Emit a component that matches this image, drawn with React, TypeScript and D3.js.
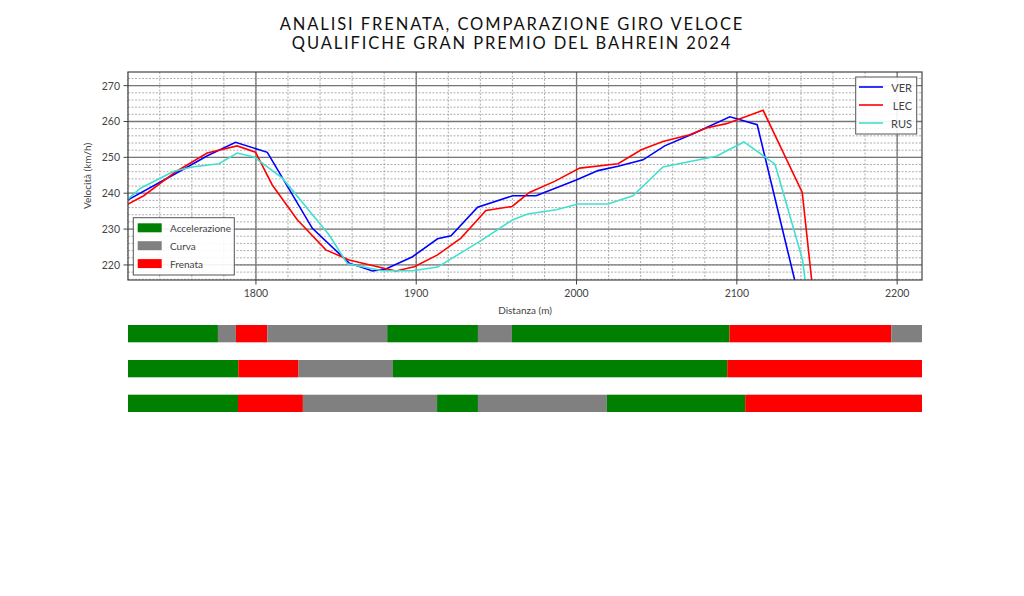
import * as d3 from "d3";

// speed traces (distance m, speed km/h)
const verDist = [1719.6, 1750, 1770, 1787.3, 1807.1, 1835.2, 1858.2, 1872.7, 1881, 1897.7, 1913.3, 1921.7, 1938.3, 1960.2, 1974.8, 1999.8, 2013.4, 2025.9, 2041.5, 2055, 2072.7, 2095.6, 2112.7, 2150];
const verSpeed = [238.0, 245.5, 250.5, 254.2, 251.4, 230.2, 220.5, 218.3, 218.9, 222.3, 227.3, 228.1, 236.1, 239.3, 239.3, 243.7, 246.3, 247.5, 249.3, 253.2, 256.6, 261.3, 259.1, 190];

const lecDist = [1719.6, 1730, 1750, 1769.6, 1788.3, 1799.8, 1810.2, 1825.8, 1843.6, 1858.1, 1875.8, 1887.3, 1898.8, 1913.3, 1927.9, 1943.5, 1959.8, 1970.6, 1986.3, 2002, 2025.9, 2040.4, 2053.9, 2070.6, 2081, 2093.5, 2116.4, 2140.8, 2150];
const lecSpeed = [236.8, 239.3, 246, 251.2, 253.2, 251.4, 242.3, 232.6, 224.2, 221.4, 219.5, 218.3, 219.5, 222.8, 227.5, 235.2, 236.3, 240.2, 243.3, 247.0, 248.2, 252.1, 254.4, 256.3, 258.2, 259.4, 263.1, 240.2, 202];

const rusDist = [1719.6, 1728, 1748.8, 1760.2, 1776.9, 1788.3, 1798.8, 1816.5, 1845.6, 1857.1, 1879, 1897.7, 1913.3, 1939.4, 1960.2, 1969.6, 1987.3, 2000.9, 2019.6, 2035.2, 2053.9, 2087.2, 2104.4, 2123.8, 2141, 2147];
const rusSpeed = [238.1, 241.4, 246.1, 247.3, 248.2, 251.2, 250.1, 244.2, 228.4, 220.3, 218.4, 218.4, 219.4, 226.5, 232.6, 234.2, 235.4, 237.0, 237.0, 239.3, 247.3, 250.3, 254.3, 248.1, 221.4, 200];

const drivers = ["VER", "LEC", "RUS"];

// phases: A = accelerazione, C = curva, F = frenata
const verPhases = ["A", "C", "F", "C", "A", "C", "A", "F", "C"];
const verBreaks = [1776.3, 1787.5, 1807.1, 1881.9, 1938.5, 1959.7, 2095.4, 2196.3];
const lecPhases = ["A", "F", "C", "A", "F"];
const lecBreaks = [1789, 1826.6, 1885.5, 2094];
const rusPhases = ["A", "F", "C", "A", "C", "A", "F"];
const rusBreaks = [1788.8, 1829.3, 1913, 1938.5, 2018.9, 2105.2];

const phaseKeys = ["A", "C", "F"];
const phaseLabels = ["Accelerazione", "Curva", "Frenata"];

const xTicks = [1800, 1900, 2000, 2100, 2200];
const yTicks = [220, 230, 240, 250, 260, 270];

const titleLines = [
  "ANALISI FRENATA, COMPARAZIONE GIRO VELOCE",
  "QUALIFICHE GRAN PREMIO DEL BAHREIN 2024"
];

const lineColors = ["#0000ff", "#ff0000", "#40e0d0"];
const phaseColors = ["#008000", "#808080", "#ff0000"];

const left = 128;
const right = 922;
const top = 72;
const bottom = 280;
const font = "'Lato', 'DejaVu Sans', sans-serif";

export default function App() {
  const x = d3.scaleLinear().domain([1720.2, 2215.5]).range([left, right]);
  const y = d3.scaleLinear().domain([215.8, 273.8]).range([bottom, top]);

  const minorX = d3.range(1720, 2216, 20);
  const minorY = d3.range(216, 274, 2);

  const series = [
    { dist: verDist, speed: verSpeed },
    { dist: lecDist, speed: lecSpeed },
    { dist: rusDist, speed: rusSpeed }
  ];
  const line = d3
    .line<[number, number]>()
    .x((d) => x(d[0]))
    .y((d) => y(d[1]));

  const rows = [
    { phases: verPhases, breaks: verBreaks, y0: 325 },
    { phases: lecPhases, breaks: lecBreaks, y0: 360 },
    { phases: rusPhases, breaks: rusBreaks, y0: 394.7 }
  ];
  const [d0, d1] = x.domain();

  return (
    <svg
      width={1024}
      height={596}
      style={{ position: "absolute", left: 0, top: 0, background: "#fff" }}
      fontFamily={font}
    >
      <defs>
        <clipPath id="plot-clip">
          <rect x={left} y={top} width={right - left} height={bottom - top} />
        </clipPath>
      </defs>

      {titleLines.map((t, i) => (
        <text
          key={`title-${i}`}
          x={512}
          y={30 + i * 19}
          textAnchor="middle"
          fontSize={16.5}
          fill="#111"
          letterSpacing={1.9}
        >
          {t}
        </text>
      ))}

      {/* minor grid */}
      {minorX.map((v) => (
        <line key={`mx-${v}`} x1={x(v)} x2={x(v)} y1={top} y2={bottom} stroke="#999" strokeWidth={0.8} strokeDasharray="2,1.5" />
      ))}
      {minorY.map((v) => (
        <line key={`my-${v}`} x1={left} x2={right} y1={y(v)} y2={y(v)} stroke="#999" strokeWidth={0.8} strokeDasharray="2,1.5" />
      ))}
      {/* major grid */}
      {xTicks.map((v) => (
        <line key={`gx-${v}`} x1={x(v)} x2={x(v)} y1={top} y2={bottom} stroke="#777" strokeWidth={1.3} />
      ))}
      {yTicks.map((v) => (
        <line key={`gy-${v}`} x1={left} x2={right} y1={y(v)} y2={y(v)} stroke="#777" strokeWidth={1.3} />
      ))}

      <g clipPath="url(#plot-clip)">
        {series.map((s, i) => (
          <path
            key={drivers[i]}
            d={line(s.dist.map((d, j) => [d, s.speed[j]] as [number, number])) ?? ""}
            fill="none"
            stroke={lineColors[i]}
            strokeWidth={1.6}
          />
        ))}
      </g>

      <rect x={left} y={top} width={right - left} height={bottom - top} fill="none" stroke="#444" strokeWidth={1.2} />

      {xTicks.map((v) => (
        <g key={`xt-${v}`}>
          <line x1={x(v)} x2={x(v)} y1={bottom} y2={bottom + 4.5} stroke="#444" strokeWidth={1} />
          <text x={x(v)} y={297} textAnchor="middle" fontSize={10.5} fill="#444">
            {v}
          </text>
        </g>
      ))}
      {yTicks.map((v) => (
        <g key={`yt-${v}`}>
          <line x1={left - 4.5} x2={left} y1={y(v)} y2={y(v)} stroke="#444" strokeWidth={1} />
          <text x={120} y={y(v)} textAnchor="end" dominantBaseline="central" fontSize={10.5} fill="#444">
            {v}
          </text>
        </g>
      ))}
      <text x={(left + right) / 2} y={314} textAnchor="middle" fontSize={10} fill="#444">
        Distanza (m)
      </text>
      <text
        transform={`translate(91, ${(top + bottom) / 2}) rotate(-90)`}
        textAnchor="middle"
        fontSize={10}
        fill="#444"
      >
        Velocità (km/h)
      </text>

      {/* driver legend */}
      <rect x={855.7} y={77} width={61} height={57} fill="#fff" fillOpacity={0.9} stroke="#555" strokeWidth={1} />
      {drivers.map((d, i) => {
        const ly = 87 + i * 18;
        return (
          <g key={`leg-${d}`}>
            <line x1={859} x2={883} y1={ly} y2={ly} stroke={lineColors[i]} strokeWidth={1.6} />
            <text x={912} y={ly} textAnchor="end" dominantBaseline="central" fontSize={11} fill="#444">
              {d}
            </text>
          </g>
        );
      })}

      {/* phase legend */}
      <rect x={133.3} y={217.7} width={101} height={57.3} fill="#fff" fillOpacity={0.9} stroke="#555" strokeWidth={1} />
      {phaseLabels.map((p, i) => {
        const ly = 223.3 + i * 17.9;
        return (
          <g key={`pl-${p}`}>
            <rect x={137.7} y={ly} width={24} height={9} fill={phaseColors[i]} />
            <text x={170} y={ly + 4.5} dominantBaseline="central" fontSize={10} fill="#444">
              {p}
            </text>
          </g>
        );
      })}

      {/* phase bars */}
      {rows.map((r, ri) => {
        const edges = [d0, ...r.breaks, d1];
        return (
          <g key={`row-${ri}`}>
            {r.phases.map((ph, k) => (
              <rect
                key={`seg-${ri}-${k}`}
                x={x(edges[k])}
                y={r.y0}
                width={x(edges[k + 1]) - x(edges[k])}
                height={17.3}
                fill={phaseColors[phaseKeys.indexOf(ph)]}
              />
            ))}
          </g>
        );
      })}
    </svg>
  );
}
